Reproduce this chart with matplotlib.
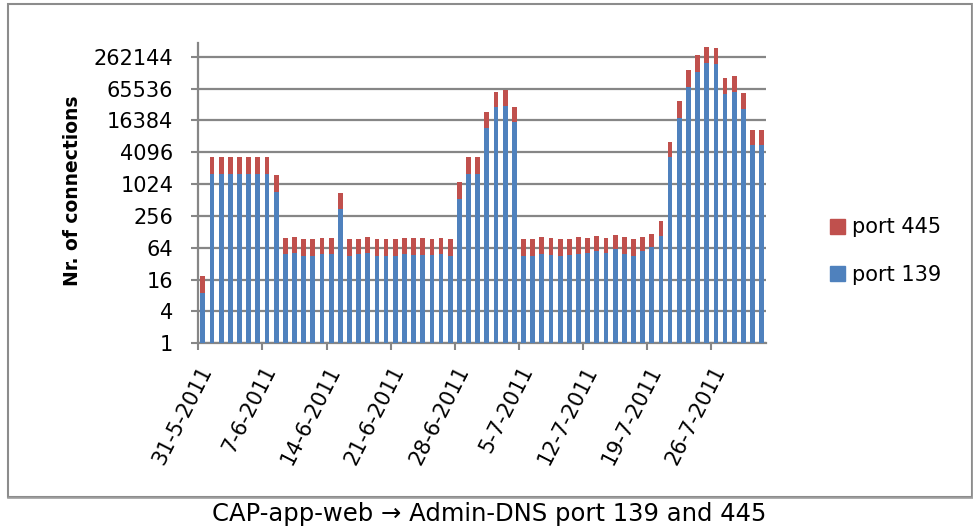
import numpy as np
import matplotlib
matplotlib.use('Agg')
import matplotlib.pyplot as plt
from matplotlib.patches import Rectangle, Patch
from matplotlib.ticker import FixedLocator, NullLocator

# one bar per day, 31-5-2011 .. 31-7-2011
port139 = [9,
           1580, 1580, 1580, 1580, 1580, 1580, 1580,
           733,
           49, 50, 45, 45, 48, 49,
           340,
           45, 48, 50, 45,
           45, 45, 48, 46, 46, 46, 48, 45,
           534,
           1580, 1580,
           11600, 28800, 31000, 15000,
           45, 45, 49, 47, 45, 47,
           49, 52, 56, 52, 60, 49, 45, 56, 67, 108,
           3270, 18300, 70800, 134000, 199000, 188000, 51800, 55400, 26400, 5560, 5560]
port445 = [10,
           1700, 1700, 1700, 1700, 1700, 1700, 1700,
           777,
           47, 51, 48, 48, 48, 47,
           343,
           48, 45, 51, 48,
           48, 48, 48, 50, 50, 48, 48, 48,
           596,
           1700, 1700,
           11600, 28200, 29300, 14600,
           48, 48, 52, 49, 48, 47,
           52, 48, 50, 48, 51, 52, 48, 47, 49, 99,
           3170, 19600, 75200, 143000, 209000, 191000, 53200, 56600, 26500, 5440, 5440]
tick_labels = ['31-5-2011', '7-6-2011', '14-6-2011', '21-6-2011', '28-6-2011',
               '5-7-2011', '12-7-2011', '19-7-2011', '26-7-2011']
y_ticks = [1, 4, 16, 64, 256, 1024, 4096, 16384, 65536, 262144]

blue = '#4F81BD'
red = '#C0504D'
grid = '#868686'
fs = 15

fig = plt.figure(figsize=(9.73, 5.32), dpi=100)
W, H = 973, 532
ax = fig.add_axes([198.3 / W, 1 - 343.3 / H, 568.0 / W, 300.0 / H])

n = len(port139)
x = np.arange(n) + 0.5
ax.bar(x, port139, width=0.52, color=blue, zorder=3)
ax.bar(x, port445, width=0.52, bottom=port139, color=red, zorder=3)

ax.set_yscale('log', base=2)
ax.set_ylim(1, 2 ** 18.84)
ax.set_xlim(0, n)
ax.yaxis.set_major_locator(FixedLocator(y_ticks))
ax.yaxis.set_minor_locator(NullLocator())
ax.set_yticklabels([str(v) for v in y_ticks])
ax.grid(axis='y', color=grid, linewidth=1.6, zorder=0)

ax.set_xticks(np.arange(0, n, 7))
ax.set_xticklabels(tick_labels, rotation=63, ha='right', va='top',
                   rotation_mode='anchor')

for s in ['top', 'right']:
    ax.spines[s].set_visible(False)
for s in ['left', 'bottom']:
    ax.spines[s].set_color(grid)
    ax.spines[s].set_linewidth(1.6)
ax.tick_params(axis='y', direction='out', length=5, width=1.5, color=grid,
               labelsize=fs, pad=13)
ax.tick_params(axis='x', direction='out', length=5, width=1.5, color=grid,
               labelsize=fs, pad=9)

fig.text(72 / W, 1 - 191 / H, 'Nr. of connections', rotation=90,
         ha='center', va='center', fontsize=13.5, fontweight='bold')

# legend to the right
handles = [Patch(color=red, label='port 445'), Patch(color=blue, label='port 139')]
fig.legend(handles=handles, loc='center left',
           bbox_to_anchor=(830 / W, 1 - 251 / H), frameon=False, fontsize=fs,
           handlelength=0.72, handleheight=0.72, handletextpad=0.35,
           labelspacing=1.3, borderpad=0, borderaxespad=0)

# chart area border (with a slightly heavier right/bottom edge)
fig.patches.append(Rectangle((7.5 / W, 1 - 496.5 / H), 964 / W, 493 / H,
                             transform=fig.transFigure, fill=False,
                             edgecolor='#8c8c8c', linewidth=1.5))
fig.lines.append(plt.Line2D([8 / W, 972.5 / W, 972.5 / W],
                            [1 - 497.5 / H, 1 - 497.5 / H, 1 - 4 / H],
                            transform=fig.transFigure, color='#a0a0a0',
                            linewidth=1.2))

fig.text(489 / W, 1 - 513.5 / H, 'CAP-app-web \u2192 Admin-DNS port 139 and 445',
         ha='center', va='center', fontsize=17.5)

fig.savefig('out.png', dpi=100)
